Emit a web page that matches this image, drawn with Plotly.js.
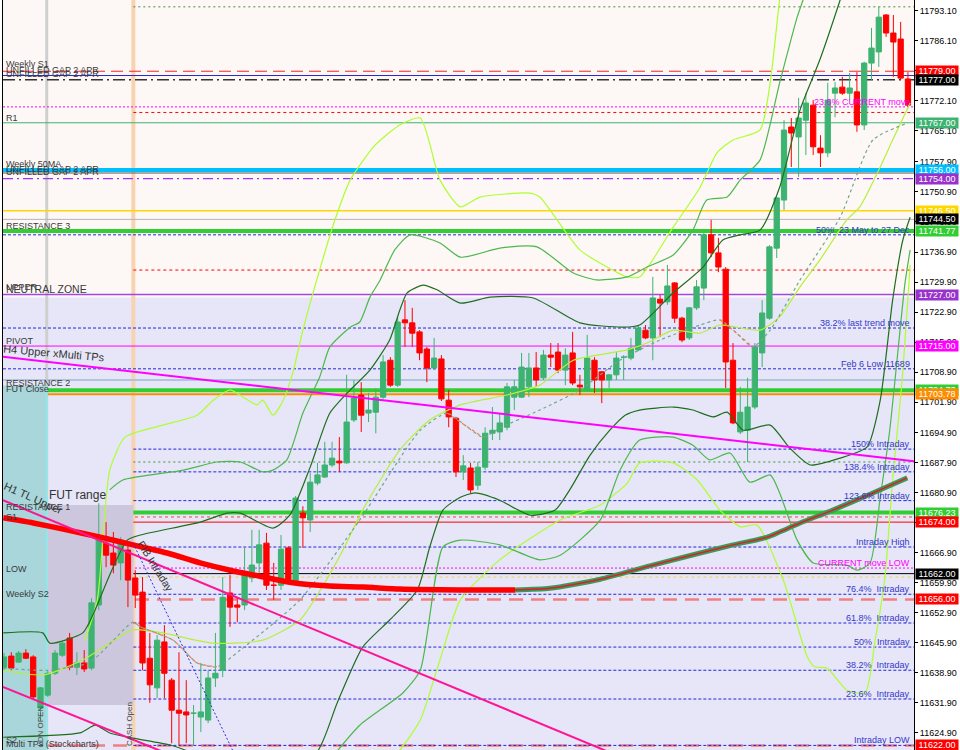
<!DOCTYPE html>
<html><head><meta charset="utf-8">
<script src="https://cdn.plot.ly/plotly-3.0.1.min.js"></script>
<style>html,body{margin:0;padding:0;background:#fff}#chart{width:960px;height:750px}</style>
</head><body><div id="chart"></div>
<script>
// ---------------- candles (one bar per index) ----------------
const openP = [11640.2,11642.8,11641.4,11643.5,11642.6,11630.7,11633.7,11638.8,11643.0,11647.0,
11640.2,11641.2,11640.0,11654.7,11669.1,11666.8,11664.5,11667.5,11661.0,11657.7,
11642.3,11635.4,11646.1,11637.2,11630.2,11629.8,11629.5,11628.6,11627.9,11637.7,
11639.5,11657.5,11654.7,11654.7,11661.0,11664.5,11669.1,11659.3,11659.3,11668.0,
11660.0,11676.1,11674.5,11683.1,11684.5,11687.3,11688.2,11687.8,11697.8,11703.6,
11699.4,11699.6,11703.1,11711.7,11705.9,11721.1,11720.4,11718.3,11714.3,11709.9,
11712.0,11702.4,11698.2,11685.7,11686.6,11682.6,11686.8,11694.7,11695.0,11696.1,
11703.1,11703.1,11705.5,11709.9,11707.6,11712.9,11713.6,11709.4,11713.4,11705.9,
11704.8,11711.7,11709.0,11707.1,11708.3,11712.4,11712.2,11714.1,11718.7,11716.9,
11725.9,11725.3,11729.7,11721.5,11716.9,11723.9,11728.5,11740.9,11736.7,11732.9,
11711.7,11695.0,11695.4,11700.8,11713.4,11721.5,11737.8,11749.0,11766.0,11763.7,
11767.6,11771.1,11761.1,11760.0,11773.9,11775.3,11773.9,11774.2,11766.5,11780.9,
11783.5,11792.1,11787.9,11786.5,11777.2];
const highP = [11643.5,11643.7,11644.0,11644.4,11643.0,11635.6,11639.5,11644.2,11646.1,11648.2,
11643.7,11644.2,11656.3,11678.4,11674.0,11671.7,11670.5,11668.7,11662.8,11661.2,
11648.2,11647.7,11650.0,11637.7,11643.7,11637.2,11631.4,11641.2,11639.5,11648.2,
11661.2,11661.7,11656.3,11668.0,11672.2,11672.2,11671.5,11664.5,11671.0,11668.4,
11680.1,11677.7,11685.4,11687.8,11692.7,11692.7,11693.8,11708.3,11707.1,11706.6,
11704.1,11705.2,11712.9,11712.4,11721.8,11725.7,11723.9,11718.7,11714.8,11716.9,
11712.9,11704.8,11698.5,11689.6,11687.8,11688.0,11696.1,11700.8,11699.4,11706.4,
11707.1,11713.4,11713.4,11713.6,11714.1,11715.7,11715.7,11714.5,11718.3,11708.3,
11717.6,11712.4,11709.2,11708.5,11713.6,11712.9,11716.9,11719.9,11719.9,11731.1,
11726.9,11733.9,11729.9,11721.8,11724.1,11730.4,11741.3,11744.4,11740.2,11733.4,
11715.7,11705.5,11707.6,11715.7,11725.7,11738.5,11749.7,11767.6,11768.1,11772.8,
11773.9,11772.3,11764.1,11776.3,11776.5,11777.7,11778.6,11778.8,11781.2,11789.1,
11794.0,11792.3,11792.1,11790.5,11778.8];
const lowP = [11639.5,11639.5,11641.2,11642.1,11632.6,11627.9,11633.3,11638.4,11642.6,11639.5,
11638.4,11639.1,11639.5,11653.5,11663.5,11662.1,11660.5,11654.2,11654.0,11639.5,
11631.9,11633.0,11633.0,11622.5,11622.1,11622.5,11622.1,11625.1,11627.2,11635.6,
11637.9,11649.6,11650.7,11653.5,11660.0,11662.1,11658.2,11655.9,11658.2,11659.6,
11659.6,11668.0,11671.7,11682.6,11684.3,11686.8,11685.7,11687.6,11697.3,11695.0,
11697.3,11694.7,11702.7,11705.5,11705.5,11714.8,11714.8,11711.7,11706.6,11709.4,
11702.2,11696.1,11684.5,11683.8,11680.8,11681.5,11686.1,11693.1,11693.1,11695.4,
11700.1,11702.9,11703.1,11705.5,11707.1,11710.1,11708.7,11705.9,11705.9,11703.6,
11704.3,11704.1,11701.7,11705.2,11707.1,11707.1,11711.7,11713.8,11716.6,11711.7,
11717.1,11724.6,11720.4,11715.9,11716.4,11723.4,11725.7,11735.7,11732.2,11705.2,
11696.8,11694.5,11688.0,11700.3,11710.1,11721.1,11735.5,11746.7,11756.7,11754.4,
11759.5,11759.5,11756.7,11759.0,11768.3,11773.5,11772.3,11764.9,11765.3,11777.0,
11780.0,11787.0,11777.7,11777.0,11770.7];
const closeP = [11642.6,11640.0,11643.5,11642.3,11633.3,11635.4,11638.8,11643.5,11645.8,11640.2,
11641.2,11639.8,11655.2,11670.5,11666.3,11664.0,11669.8,11660.5,11657.0,11641.2,
11636.1,11646.5,11638.8,11630.2,11629.5,11629.1,11629.5,11629.8,11637.7,11638.8,
11656.5,11654.2,11654.2,11661.7,11664.0,11668.7,11659.3,11659.3,11667.7,11660.0,
11679.6,11675.0,11683.3,11685.0,11687.3,11688.9,11687.8,11697.3,11702.9,11698.9,
11700.1,11703.1,11711.3,11705.9,11720.6,11720.4,11718.0,11713.4,11709.9,11712.2,
11702.7,11698.5,11685.7,11687.1,11681.5,11686.8,11694.7,11695.4,11697.1,11705.5,
11705.5,11710.1,11709.9,11707.1,11712.9,11712.4,11709.4,11712.9,11706.4,11705.5,
11712.2,11707.1,11707.1,11708.3,11712.2,11712.4,11714.5,11719.2,11716.9,11726.2,
11725.0,11729.0,11721.5,11716.4,11723.9,11728.8,11740.9,11736.7,11733.4,11711.3,
11697.1,11699.6,11700.8,11714.8,11722.7,11738.1,11749.5,11765.3,11764.6,11768.1,
11771.6,11761.4,11760.0,11772.3,11775.1,11773.9,11775.1,11766.5,11780.9,11784.4,
11791.6,11787.9,11785.8,11777.4,11771.1];

// ---------------- indicator curves (x = bar index, y = price) ----------------
const maRedX = [-0.1,4.0,8.6,13.2,17.7,22.4,26.9,31.0,35.1,39.2,44.7,49.2,54.3,62.6,70.1];
const maRedY = [11675.0,11673.8,11672.2,11670.5,11668.7,11666.8,11664.5,11662.8,11661.4,11660.0,11659.1,11658.9,11658.4,11658.2,11658.2];
const maGreenX = [70.1,74.9,81.8,88.6,95.5,100.0,104.7,109.2,113.7,118.8,123.9];
const maGreenY = [11658.2,11658.6,11660.7,11663.8,11666.8,11668.7,11670.5,11673.8,11676.8,11680.5,11684.3];

const dgUpX = [-0.1,5.3,6.3,10.8,12.2,14.5,16.9,18.7,26.9,30.6,32.4,36.9,39.2,42.0,44.7,47.5,50.2,52.9,54.3,55.3,57.5,59.4,62.6,66.7,72.6,79.0,84.9,87.2,91.8,95.9,98.6,101.0,103.7,106.4,109.2,111.9,114.7,116.0];
const dgUpY = [11648.2,11648.2,11645.8,11648.2,11652.4,11661.7,11669.8,11671.0,11674.0,11676.1,11676.1,11672.6,11675.6,11686.8,11699.4,11704.8,11709.4,11716.4,11723.4,11727.4,11729.2,11728.1,11725.0,11726.4,11726.2,11720.4,11719.4,11719.9,11727.4,11733.4,11739.7,11740.9,11742.0,11752.0,11770.0,11781.6,11795.6,11802.6];
const dgLoX = [-0.1,10.4,12.5,14.5,17.7,22.8,25.5,33.7,42.9,45.7,49.2,52.9,56.7,58.4,60.2,62.6,64.6,68.0,72.2,75.6,77.6,80.4,83.1,85.2,87.2,91.8,94.5,97.3,99.2,101.4,105.1,107.8,110.6,114.7,118.4,120.2,121.9,123.3,124.3];
const dgLoY = [11623.9,11624.9,11626.7,11624.9,11623.7,11622.1,11620.4,11611.6,11620.4,11631.9,11644.9,11651.2,11658.2,11668.2,11676.8,11679.8,11680.8,11679.1,11675.6,11676.8,11681.5,11689.6,11695.4,11698.9,11700.1,11700.8,11700.1,11698.5,11699.6,11695.4,11696.6,11691.2,11687.3,11688.9,11691.5,11702.4,11725.7,11739.7,11745.0];
const mgUpX = [14.5,16.3,24.6,29.2,32.4,35.5,36.9,38.8,41.0,43.3,44.7,47.5,48.8,50.2,51.6,53.6,55.7,59.8,62.6,68.0,73.1,78.1,81.3,85.5,88.2,91.8,94.5,96.4,99.2,101.0,103.7,106.4,108.8,109.6,110.3];
const mgUpY = [11681.5,11683.8,11686.1,11688.0,11688.0,11685.7,11686.1,11688.5,11699.4,11707.8,11714.8,11719.4,11720.6,11726.4,11730.4,11737.4,11740.9,11739.0,11735.7,11737.8,11738.1,11732.0,11730.4,11731.1,11733.4,11736.2,11742.0,11749.0,11749.7,11753.7,11758.3,11776.3,11791.6,11795.6,11800.2];
const mgLoX = [44.7,48.8,54.7,57.1,60.2,62.6,68.0,73.5,76.3,81.8,84.5,87.2,91.8,94.5,96.8,99.6,102.3,105.1,106.4,108.8,111.0,115.6,117.0,118.8,120.2,121.5,123.6,124.3];
const mgLoY = [11618.6,11626.7,11634.2,11639.5,11668.2,11669.8,11668.7,11665.2,11666.3,11674.5,11686.1,11693.1,11693.8,11691.9,11688.5,11690.1,11683.3,11685.0,11680.8,11669.8,11664.5,11664.0,11662.8,11664.5,11679.8,11695.4,11729.7,11737.4];
const ygUpX = [11.1,12.8,14.5,16.6,21.8,26.5,28.7,31.0,32.8,34.7,35.5,36.9,38.3,39.6,41.0,42.9,45.4,47.5,50.9,54.3,57.1,59.8,62.6,65.3,72.2,73.5,79.0,85.5,87.2,91.8,95.5,97.8,100.0,103.7,105.1,106.4,106.9];
const ygUpY = [11646.5,11655.9,11686.1,11693.8,11696.6,11698.9,11702.4,11704.8,11703.1,11701.3,11702.4,11698.9,11702.4,11708.7,11718.7,11730.4,11744.4,11753.7,11761.8,11766.5,11768.1,11753.7,11747.4,11749.7,11750.6,11749.7,11737.4,11731.1,11731.1,11742.7,11752.0,11760.0,11763.0,11765.3,11776.3,11795.6,11800.2];
const ygMidX = [-0.1,5.4,10.8,17.7,21.8,28.7,35.5,40.6,43.8,46.5,49.2,54.3,58.4,62.6,69.0,73.5,78.1,85.5,88.2,91.8,95.5,98.2,103.7,106.4,109.2,111.9,115.6,117.4,120.2,121.9,124.3];
const ygMidY = [11639.5,11638.4,11641.9,11648.9,11648.2,11645.8,11646.5,11651.2,11659.3,11667.5,11676.8,11690.8,11697.8,11701.3,11703.6,11705.9,11711.7,11714.1,11715.7,11718.7,11718.0,11719.9,11718.7,11721.8,11728.8,11735.0,11744.4,11747.4,11756.7,11763.0,11771.6];
const ygLoX = [51.6,54.3,57.1,59.8,62.6,68.0,76.3,81.8,85.5,87.2,91.8,95.1,98.2,101.0,103.3,106.9,110.2,111.2,112.9,115.6,118.1,119.5,120.8,121.9,123.2,124.3];
const ygLoY = [11616.3,11620.9,11627.9,11641.9,11655.9,11665.2,11674.5,11678.0,11683.1,11687.8,11687.8,11683.8,11676.8,11672.9,11673.3,11660.5,11642.6,11640.3,11640.0,11634.9,11634.2,11646.5,11660.5,11683.8,11707.1,11733.9];
const dotMaX = [-0.1,5.9,11.8,17.7,18.7,23.2,26.5,29.2,32.4,40.6,48.8,57.1,60.8,63.2,65.7,68.0,73.5,79.0,84.5,90.0,95.5,98.2,100.5,102.7,105.1,109.2,114.7,119.2,123.9];
const dotMaY = [11640.0,11639.5,11641.4,11650.7,11649.6,11646.5,11641.2,11640.3,11644.2,11655.9,11674.5,11695.4,11699.4,11696.6,11693.8,11695.9,11700.1,11704.8,11711.7,11716.4,11719.9,11721.1,11718.0,11714.8,11718.7,11730.4,11745.0,11763.0,11766.9];

// ---------------- horizontal levels ----------------
const levelPrices = [11794.0,11779.0,11778.0,11777.0,11770.7,11769.4,11767.0,11756.0,11755.3,11754.0,
11746.5,11744.5,11741.77,11740.9,11732.7,11727.0,11719.2,11715.0,11709.7,11707.1,
11704.73,11703.78,11691.0,11688.0,11685.7,11679.0,11676.23,11675.2,11674.0,11668.2,
11663.3,11662.0,11661.2,11657.2,11622.0,11656.0,11650.5,11644.9,11639.5,11632.8,11622.0];
const levelKinds = ['gdotC','redDash','blue','blackDD','magDot','redDotC','green','cyan','grey','purpleDD',
'gold','ltgrey','lime4','blueDot','redDotC','purple','blueDot','magenta','blueDot','steel',
'lime4','orange','blueDotC','gdotC','blueDotC','blueDotC','lime4','redDot','red','blueDotC',
'magDot','black','goldDotC','blueDotC','blueDotC','salmon','blueDotC','blueDotC','blueDotC','blueDotC','salmon'];

const boxPrices = [11779.00,11777.00,11767.00,11756.00,11754.00,11746.50,11744.50,11741.77,11727.00,11715.00,11704.73,11703.78,11676.23,11674.00,11662.00,11656.00,11622.00];
const boxColors = ['#ff0000','#000000','#3cb371','#00bfff','#9932cc','#ffd700','#000000','#32cd32','#9932cc','#ff00ff','#32cd32','#ff8c00','#32cd32','#ff0000','#000000','#ff0000','#ff0000'];

const leftLabels = ['Weekly S1','UNFILLED GAP 2 APR','UNFILLED GAP 2 APR','R1','Weekly 50MA','UNFILLED GAP 2 APR','UNFILLED GAP 2 APR','RESISTANCE 3','PIVOT','RESISTANCE 2','FUT Close','RESISTANCE 1','S1','LOW','Weekly S2','S2'];
const leftPrices = [11779.6,11778.1,11777.3,11767.0,11756.3,11755.0,11754.4,11741.9,11715.0,11705.2,11703.9,11676.4,11674.0,11662.0,11656.2,11622.1];

const fibLabels = ['23.6% CURRENT move','50%\u00a0\u00a023 May to 27 Dec','38.2% last trend move','Feb 6 Low 11689','150% Intraday','138.4% Intraday','123.6% Intraday','Intraday High','CURRENT move LOW','76.4%\u00a0\u00a0Intraday','61.8%\u00a0\u00a0Intraday','50%\u00a0\u00a0Intraday','38.2%\u00a0\u00a0Intraday','23.6%\u00a0\u00a0Intraday','Intraday LOW'];
const fibPrices = [11770.7,11740.9,11719.2,11709.7,11691.0,11685.7,11679.0,11668.2,11663.3,11657.2,11650.5,11644.9,11639.5,11632.8,11622.0];

const tickVals = [11793.1,11786.1,11779.1,11772.1,11765.1,11757.9,11750.9,11743.9,11736.9,11729.9,11722.9,11715.9,11708.9,11701.9,11694.9,11687.9,11680.9,11673.9,11666.9,11659.9,11652.9,11645.9,11638.9,11631.9,11624.9];

// zones and trend lines (bar index / price)
const sessionBreaks = [5.86, 17.74];
const neutralZoneTop = 11726.3;
const tealZoneTop = 11705.8;
const futRange = [11631.4, 11678.0];
const magentaTL = [[-0.14,11712.5],[124.83,11688.2]];
const pinkTL1 = [[-0.14,11679.1],[90,11615.5]];
const pinkTL2 = [[-0.14,11635.6],[24,11619.0]];
const fibDiag = [[17.7,11669.1],[32.0,11618.6]];

// ---------------- build ----------------
const X0 = -0.14, X1 = 124.83, Y0 = 11620.93, Y1 = 11795.59;
const xs = openP.map((_, i) => i);
const FONT = 'Liberation Sans, Arial, sans-serif';

const STY = {
  gdotC:{c:'#3d9140',w:1,d:'2px,3px',cash:true}, redDash:{c:'#ff2020',w:1,d:'12px,6px'},
  blue:{c:'#2828c8',w:1,d:'solid'}, blackDD:{c:'#333333',w:1.5,d:'12px,4px,2px,4px'},
  magDot:{c:'#ff00ff',w:1,d:'2px,2px'}, redDotC:{c:'#ff0000',w:1,d:'3px,3px',cash:true},
  green:{c:'#3cb371',w:1,d:'solid'}, cyan:{c:'#00bfff',w:4,d:'solid'}, grey:{c:'#555555',w:1,d:'solid'},
  purpleDD:{c:'#9b30ff',w:1.2,d:'10px,4px,2px,4px'}, gold:{c:'#ffd700',w:1.5,d:'solid'},
  ltgrey:{c:'#b4b4b4',w:1,d:'solid'}, lime4:{c:'#32cd32',w:4,d:'solid'},
  blueDot:{c:'#2525dd',w:1,d:'3px,2px'}, blueDotC:{c:'#2525dd',w:1,d:'3px,2px',cash:true},
  purple:{c:'#a346e6',w:1.5,d:'solid'}, magenta:{c:'#ff00ff',w:1,d:'solid'}, steel:{c:'#b0c4de',w:2,d:'solid'},
  orange:{c:'#ff8c00',w:2,d:'solid'}, redDot:{c:'#ff4040',w:1,d:'3px,3px'}, red:{c:'#ff0000',w:1,d:'solid'},
  black:{c:'#000000',w:1,d:'solid'}, goldDotC:{c:'#f0d050',w:1,d:'3px,3px',cash:true},
  salmon:{c:'#f08080',w:2.5,d:'14px,8px'}
};

const shapes = [];
shapes.push({type:'rect',layer:'below',xref:'paper',x0:0,x1:1,yref:'y',y0:11590,y1:neutralZoneTop,fillcolor:'#e6e6f8',line:{width:0}});
shapes.push({type:'rect',layer:'below',xref:'x',x0:X0-1,x1:sessionBreaks[0],yref:'y',y0:11590,y1:tealZoneTop,fillcolor:'#a8d6da',line:{width:0}});
shapes.push({type:'rect',layer:'below',xref:'x',x0:sessionBreaks[0],x1:sessionBreaks[1],yref:'y',y0:futRange[0],y1:futRange[1],fillcolor:'#cdc7de',line:{width:0}});
shapes.push({type:'line',layer:'below',xref:'x',x0:sessionBreaks[0],x1:sessionBreaks[0],yref:'paper',y0:0,y1:1,line:{color:'#cfcfcf',width:3}});
shapes.push({type:'line',layer:'below',xref:'x',x0:sessionBreaks[0],x1:sessionBreaks[0],yref:'y',y0:11600,y1:tealZoneTop,line:{color:'#8fe8ea',width:2}});
shapes.push({type:'line',layer:'below',xref:'x',x0:sessionBreaks[1],x1:sessionBreaks[1],yref:'paper',y0:0,y1:1,line:{color:'#f9d2b0',width:4}});
levelPrices.forEach((p, k) => {
  const s = STY[levelKinds[k]];
  const base = {type:'line',layer:'below',yref:'y',y0:p,y1:p,line:{color:s.c,width:s.w,dash:s.d}};
  if (s.cash) Object.assign(base,{xref:'x',x0:sessionBreaks[1],x1:X1});
  else Object.assign(base,{xref:'paper',x0:0,x1:1});
  shapes.push(base);
});
function seg(pts,color,width,dash){return {type:'line',layer:'above',xref:'x',yref:'y',x0:pts[0][0],y0:pts[0][1],x1:pts[1][0],y1:pts[1][1],line:{color:color,width:width,dash:dash||'solid'}};}
shapes.push(seg(magentaTL,'#ff00ff',2));
shapes.push(seg(pinkTL1,'#ff1493',2));
shapes.push(seg(pinkTL2,'#ff1493',2));
shapes.push(seg(fibDiag,'#3030e0',1,'2px,2px'));

const traces = [];
traces.push({type:'candlestick',x:xs,open:openP,high:highP,low:lowP,close:closeP,
  increasing:{line:{color:'#3cb371',width:1},fillcolor:'#3cb371'},
  decreasing:{line:{color:'#ff0000',width:1},fillcolor:'#ff0000'},
  whiskerwidth:0,hoverinfo:'skip',showlegend:false});
function ln(x,y,color,width,dash){traces.push({type:'scatter',mode:'lines',x:x,y:y,line:{color:color,width:width,dash:dash||'solid',shape:'spline',smoothing:0.6},hoverinfo:'skip',showlegend:false});}
ln(ygUpX,ygUpY,'#adff2f',1.2);
ln(ygLoX,ygLoY,'#adff2f',1.2);
ln(ygMidX,ygMidY,'#b5f03a',1.2);
ln(mgUpX,mgUpY,'#4cb84c',1.2);
ln(mgLoX,mgLoY,'#4cb84c',1.2);
ln(dgUpX,dgUpY,'#1e6e1e',1.2);
ln(dgLoX,dgLoY,'#1e6e1e',1.2);
ln(dotMaX,dotMaY,'#6fa88a',1.2,'3px,3px');
ln(dotMaX.slice(3,8),dotMaY.slice(3,8),'#ff7a3a',1.2,'3px,3px');
ln(dotMaX.slice(12,15),dotMaY.slice(12,15),'#ff7a3a',1.2,'3px,3px');
ln(dotMaX.slice(21,24),dotMaY.slice(21,24),'#ff7a3a',1.2,'3px,3px');
ln(maRedX,maRedY,'#ff0000',5.5);
ln(maGreenX,maGreenY,'#3a9a60',5);
ln(maGreenX,maGreenY,'#e02020',1.5);

const ann = [];
boxPrices.forEach((p,k)=>ann.push({xref:'paper',x:1,xanchor:'left',xshift:1,yref:'y',y:p,yanchor:'middle',
  text:p.toFixed(2),showarrow:false,bgcolor:boxColors[k],font:{family:FONT,size:9,color:'#ffffff'},
  width:42,height:10,borderpad:0,align:'center'}));
leftLabels.forEach((t,k)=>ann.push({xref:'paper',x:0,xanchor:'left',xshift:1,yref:'y',y:leftPrices[k],yanchor:'bottom',yshift:-2,
  text:t,showarrow:false,font:{family:FONT,size:9,color:'#3a3a3a'}}));
ann.push({xref:'paper',x:0,xanchor:'left',xshift:1,yref:'y',y:11727.0,yanchor:'bottom',yshift:-2,text:'NEUTRAL ZONE',showarrow:false,font:{family:FONT,size:10.5,color:'#3a3a3a'}});
ann.push({xref:'paper',x:0,xanchor:'left',xshift:1,yref:'y',y:11727.6,yanchor:'bottom',yshift:-2,text:'UPPER',showarrow:false,font:{family:FONT,size:9,color:'#3a3a3a'}});
fibLabels.forEach((t,k)=>{const mag=(t.indexOf('CURRENT')>=0);
  ann.push({xref:'paper',x:1,xanchor:'right',xshift:-2,yref:'y',y:fibPrices[k],yanchor:'bottom',yshift:-2,
  text:t,showarrow:false,font:{family:FONT,size:9,color:mag?'#ff00ff':'#3636c8'}});});
ann.push({xref:'x',x:sessionBreaks[0],xanchor:'left',yref:'y',y:11680.3,yanchor:'middle',text:'FUT range',showarrow:false,font:{family:FONT,size:12,color:'#333'}});
ann.push({xref:'x',x:4.0,yref:'y',y:11679.6,text:'H1 TL Upper',textangle:24,showarrow:false,font:{family:FONT,size:11,color:'#333'}});
ann.push({xref:'x',x:6.8,yref:'y',y:11713.3,text:'H4 Upper xMulti TPs',textangle:5,showarrow:false,font:{family:FONT,size:11,color:'#333'}});
ann.push({xref:'x',x:20.8,yref:'y',y:11663.8,text:'FIB Intraday',textangle:58,showarrow:false,font:{family:FONT,size:10.5,color:'#333'}});
ann.push({xref:'x',x:4.9,yref:'y',y:11626.5,text:'LDN OPEN',textangle:-90,showarrow:false,font:{family:FONT,size:8,color:'#444'}});
ann.push({xref:'x',x:17.3,yref:'y',y:11627.0,text:'CASH Open',textangle:-90,showarrow:false,font:{family:FONT,size:8,color:'#444'}});
ann.push({xref:'paper',x:0,xanchor:'left',xshift:1,yref:'y',y:11621.0,yanchor:'bottom',yshift:-1,text:'Multi TPs (Stockcharts)',showarrow:false,font:{family:FONT,size:9,color:'#3a3a3a'}});

const layout = {
  width:960,height:750,margin:{l:3,r:46,t:0,b:0},
  paper_bgcolor:'#ffffff',plot_bgcolor:'#fdf8f6',showlegend:false,
  boxgap:0.18,boxgroupgap:0.12,
  font:{family:FONT,size:9,color:'#000'},
  xaxis:{range:[X0,X1],visible:false,rangeslider:{visible:false},fixedrange:true},
  yaxis:{range:[Y0,Y1],side:'right',showgrid:false,zeroline:false,showline:true,linecolor:'#000',linewidth:1,mirror:true,
    ticks:'outside',ticklen:3,tickcolor:'#000',tickvals:tickVals,ticktext:tickVals.map(v=>v.toFixed(2)),
    tickfont:{family:FONT,size:9,color:'#000'},automargin:false,fixedrange:true},
  shapes:shapes,annotations:ann
};
Plotly.newPlot('chart',traces,layout,{staticPlot:true,displayModeBar:false});
</script>
</body></html>
